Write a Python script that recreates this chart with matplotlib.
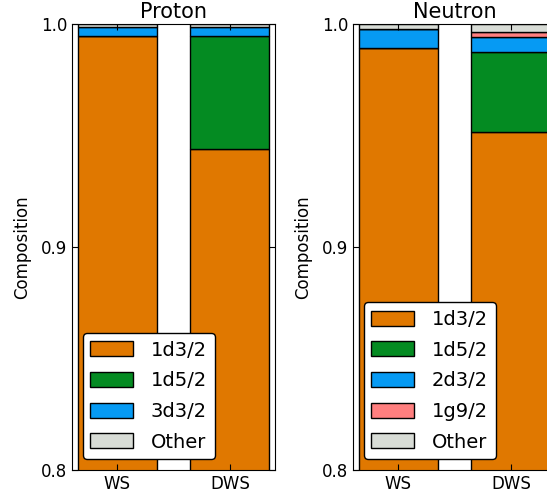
import numpy as np
import matplotlib
matplotlib.use("Agg")
import matplotlib.pyplot as plt

# composition of the state, stacked from bottom to top
models = ["WS", "DWS"]

proton_labels = ["1d3/2", "1d5/2", "3d3/2", "Other"]
proton_vals = [
    [0.9947, 0.9440],   # 1d3/2
    [0.0000, 0.0508],   # 1d5/2
    [0.0038, 0.0037],   # 3d3/2
    [0.0015, 0.0015],   # Other
]

neutron_labels = ["1d3/2", "1d5/2", "2d3/2", "1g9/2", "Other"]
neutron_vals = [
    [0.9894, 0.9516],   # 1d3/2
    [0.0000, 0.0360],   # 1d5/2
    [0.0082, 0.0067],   # 2d3/2
    [0.0000, 0.0022],   # 1g9/2
    [0.0024, 0.0035],   # Other
]

proton_colors = ["#e07800", "#048b22", "#069af3", "#d8dcd6"]
neutron_colors = ["#e07800", "#048b22", "#069af3", "#ff7f7f", "#d8dcd6"]

fig = plt.figure(figsize=(5.47, 4.95), dpi=100)
ax1 = fig.add_axes([72/547, 25/495, 203/547, 446/495])
ax2 = fig.add_axes([353/547, 25/495, 203/547, 446/495])


def stack(ax, title, labels, vals, colors):
    x = np.arange(len(models))
    bottom = np.zeros(len(models))
    for lab, v, c in zip(labels, vals, colors):
        v = np.array(v)
        ax.bar(x, v, 0.7, bottom=bottom, color=c, edgecolor="black",
               linewidth=1, label=lab)
        bottom += v
    ax.set_xlim(-0.4, 1.4)
    ax.set_ylim(0.8, 1.0)
    ax.set_xticks(x)
    ax.set_xticklabels(models, fontsize=12)
    ax.set_yticks([0.8, 0.9, 1.0])
    ax.set_yticklabels(["0.8", "0.9", "1.0"], fontsize=12)
    ax.tick_params(direction="in", top=True, right=True, length=4)
    ax.set_ylabel("Composition", fontsize=12, labelpad=7)
    ax.set_title(title, fontsize=15, pad=4)
    ax.legend(loc="lower left", fontsize=14, handlelength=2.2,
              handleheight=0.8, handletextpad=0.9, labelspacing=0.6,
              fancybox=True, framealpha=1, edgecolor="black",
              borderaxespad=0.55)


stack(ax1, "Proton", proton_labels, proton_vals, proton_colors)
stack(ax2, "Neutron", neutron_labels, neutron_vals, neutron_colors)

fig.savefig("out.png", dpi=100)
